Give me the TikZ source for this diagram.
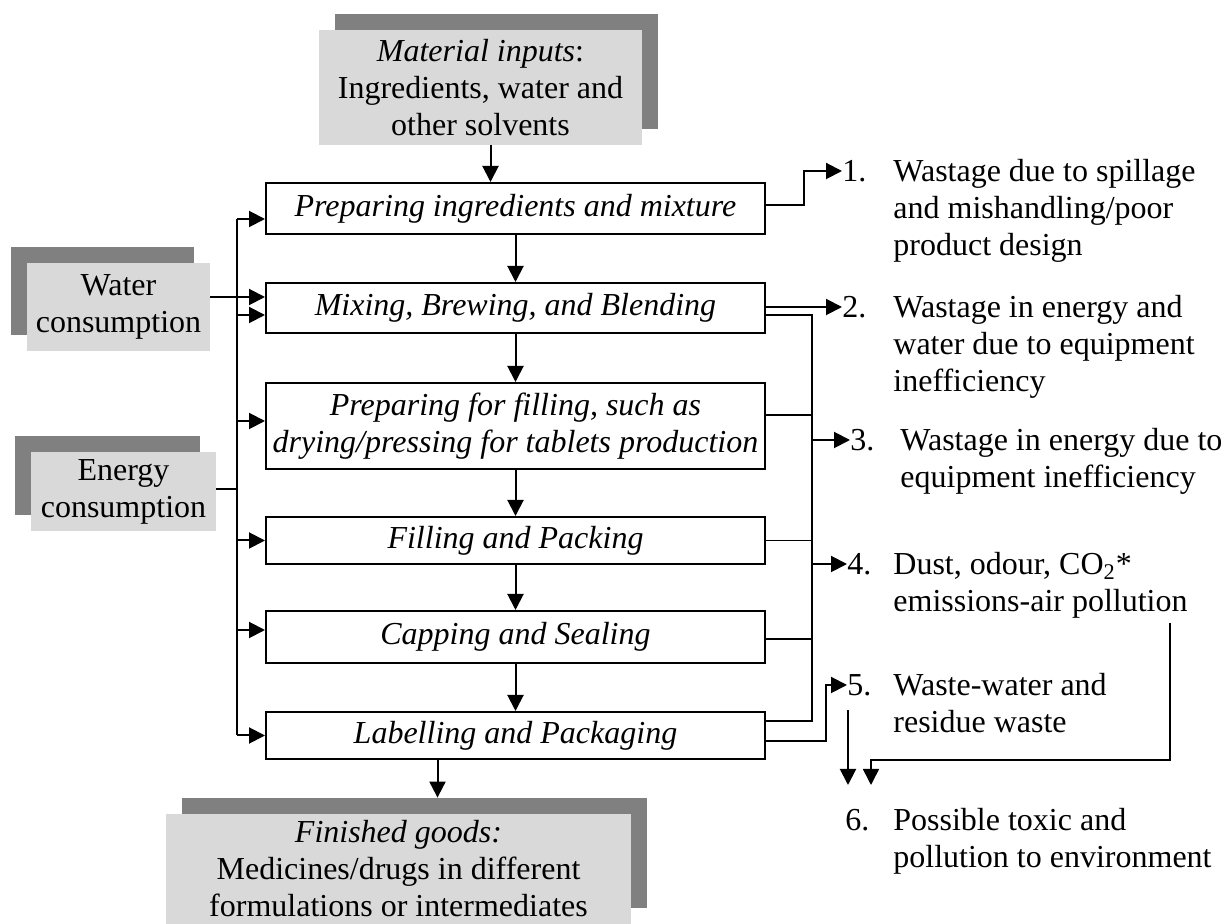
\documentclass[tikz,border=0pt]{standalone}
\usepackage{fontspec}
\setmainfont{Liberation Serif}
\usetikzlibrary{arrows.meta,shadows}
\definecolor{cardgray}{HTML}{D9D9D9}
\definecolor{shadegray}{HTML}{808080}
\newcommand{\wastetext}[1]{\begin{tabular}[t]{@{}l@{}}#1\end{tabular}}

\begin{document}
\begin{tikzpicture}[x=0.5pt,y=-0.5pt,
      font=\fontsize{16}{18.5}\selectfont,
      proc/.style={draw, line width=1pt, minimum width=249.5pt, align=center,
        inner sep=0pt, font=\fontsize{16}{18.5}\selectfont\itshape},
      card/.style={fill=cardgray, align=center, inner sep=0pt},
      shadeR/.style={general shadow={fill=shadegray, shadow xshift=8pt, shadow yshift=8pt}},
      shadeL/.style={general shadow={fill=shadegray, shadow xshift=-8pt, shadow yshift=8pt}},
      arr/.style={line width=1pt, -{Triangle[length=8pt,width=8pt]}},
      bus/.style={line width=1pt},
      branch/.style={line width=0.6pt},
      num/.style={anchor=west, inner sep=0pt},
      item/.style={anchor=base west, inner sep=0pt}]
      \useasboundingbox (0,0) rectangle (1228,924);

      % inputs and outputs
      \node[card, shadeR, minimum width=161.5pt, minimum height=57.5pt] (inputs) at (480.5,87.5)
        {\textit{Material inputs}:\\Ingredients, water and\\other solvents};
      \node[card, shadeL, minimum width=91.5pt, minimum height=44pt] (water) at (118.5,307)
        {Water\\consumption};
      \node[card, shadeL, minimum width=92.5pt, minimum height=39.5pt] (energy) at (123.5,491.5)
        {Energy\\consumption};
      \node[card, shadeR, minimum width=232.5pt, minimum height=55pt] (goods) at (398.5,869)
        {\textit{Finished goods:}\\Medicines/drugs in different\\formulations or intermediates};

      % process steps
      \node[proc, minimum height=25.5pt] (b1) at (515.5,208.5) {Preparing ingredients and mixture};
      \node[proc, minimum height=25pt] (b2) at (515.5,308) {Mixing, Brewing, and Blending};
      \node[proc, minimum height=43pt] (b3) at (515.5,426)
        {Preparing for filling, such as\\drying/pressing for tablets production};
      \node[proc, minimum height=23.5pt] (b4) at (515.5,540.5) {Filling and Packing};
      \node[proc, minimum height=26pt] (b5) at (515.5,637) {Capping and Sealing};
      \node[proc, minimum height=23.5pt] (b6) at (515.5,735.5) {Labelling and Packaging};

      % wastes
      \node[num] (n1) at (842,171) {1.};
      \node[item] (t1) at ([xshift=25.5pt]n1.base west)
        {\wastetext{Wastage due to spillage\\and mishandling/poor\\product design}};
      \node[num] (n2) at (842,307) {2.};
      \node[item] (t2) at ([xshift=25.5pt]n2.base west)
        {\wastetext{Wastage in energy and\\water due to equipment\\inefficiency}};
      \node[num] (n3) at (850,440) {3.};
      \node[item] (t3) at ([xshift=25pt]n3.base west)
        {\wastetext{Wastage in energy due to\\equipment inefficiency}};
      \node[num] (n4) at (847,564) {4.};
      \node[item] (t4) at ([xshift=23pt]n4.base west)
        {\wastetext{Dust, odour, CO\textsubscript{2}*\\emissions-air pollution}};
      \node[num] (n5) at (847,685) {5.};
      \node[item] (t5) at ([xshift=23pt]n5.base west)
        {\wastetext{Waste-water and\\residue waste}};
      \node[num] (n6) at (845,820) {6.};
      \node[item] (t6) at ([xshift=24pt]n6.base west)
        {\wastetext{Possible toxic and\\pollution to environment}};

      \coordinate (lbus) at (237,0);
      \coordinate (rbus) at (812,0);
      \coordinate (j4) at (1170,623);
      \coordinate (j5) at (848,710);
      \coordinate (j6) at (871,785);
      \coordinate (gtop) at ([yshift=8pt]goods.north);

      % main flow
      \draw[arr] ([xshift=5pt]inputs.south) -- ([xshift=5pt]inputs.south |- b1.north);
      \foreach \a/\b in {b1/b2,b2/b3,b3/b4,b4/b5,b5/b6}
        \draw[arr] (\a.south) -- (\b.north);
      \draw[arr] ([xshift=-39pt]b6.south) -- ([xshift=-39pt]b6.south |- gtop);

      % water and energy
      \draw[bus] ([yshift=-5.25pt]b1.west -| lbus) -- (b6.west -| lbus);
      \foreach \b/\dy in {b1/-5.25,b2/-3.5,b3/2.5,b4/0,b5/3.5,b6/0}
        \draw[arr] ([yshift=\dy pt]\b.west -| lbus) -- ([yshift=\dy pt]\b.west);
      \draw[arr] ([yshift=5pt]water.east) -- ([yshift=5pt]water.east -| b2.west);
      \draw[bus] ([yshift=1.25pt]energy.east) -- ([yshift=1.25pt]energy.east -| lbus);

      % waste lines
      \draw[arr] ([yshift=1.75pt]b1.east) -- ++(38,0) |- (n1.west);
      \draw[arr] (b2.east |- n2.west) -- (n2.west);
      \draw[branch] ([yshift=-3.5pt]b2.east) -| ([yshift=7.25pt]b6.east -| rbus)
        -- ([yshift=7.25pt]b6.east);
      \draw[branch] ([yshift=5.5pt]b3.east) -- ([yshift=5.5pt]b3.east -| rbus);
      \draw[branch] (b4.east) -- (b4.east -| rbus);
      \draw[branch] ([yshift=-1pt]b5.east) -- ([yshift=-1pt]b5.east -| rbus);
      \draw[arr] (rbus |- n3.west) -- (n3.west);
      \draw[arr] (rbus |- n4.west) -- (n4.west);
      \draw[arr] ([yshift=-2.75pt]b6.east) -- ++(60,0) |- (n5.west);
      \draw[arr] (j5) -- (j5 |- j6);
      \draw[arr, line width=0.8pt] (j4) -- ++(0,137) -| (j6);
\end{tikzpicture}
\end{document}
